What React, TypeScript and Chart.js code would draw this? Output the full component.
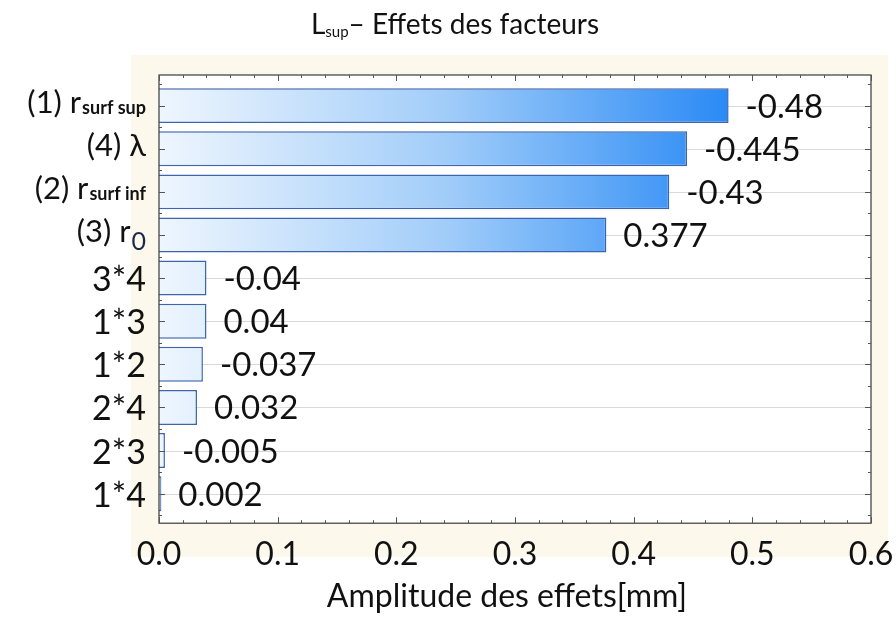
import React, { useEffect, useRef } from "react";
import { Chart, registerables } from "chart.js";

Chart.register(...registerables);

// ---- data ----
const factorMain = ["(1) r", "(4) λ", "(2) r", "(3) r", "3*4", "1*3", "1*2", "2*4", "2*3", "1*4"];
const factorSub = ["surf sup", "", "surf inf", "0", "", "", "", "", "", ""];
const effects = [-0.48, -0.445, -0.43, 0.377, -0.04, 0.04, -0.037, 0.032, -0.005, 0.002];
const xTicks = [0, 0.1, 0.2, 0.3, 0.4, 0.5, 0.6];
const titleMain = "L";
const titleSub = "sup";
const titleRest = "– Effets des facteurs";
const xTitle = "Amplitude des effets[mm]";

const FONT = "Lato, 'Open Sans', sans-serif";

const decorPlugin = {
  id: "decor",
  beforeDraw(chart: any) {
    const { ctx, chartArea: a } = chart;
    ctx.save();
    ctx.fillStyle = "#ffffff";
    ctx.fillRect(0, 0, chart.width, chart.height);
    ctx.fillStyle = "#fcf8ec";
    ctx.fillRect(131, 55, 757, 502);
    ctx.fillStyle = "#ffffff";
    ctx.fillRect(a.left, a.top, a.right - a.left, a.bottom - a.top);
    ctx.restore();
  },
  beforeDatasetsDraw(chart: any) {
    const { ctx, chartArea: a, scales } = chart;
    ctx.save();
    ctx.strokeStyle = "#d9d9d9";
    ctx.lineWidth = 1;
    effects.forEach((_, i) => {
      const y = Math.round(scales.y.getPixelForValue(i)) + 0.5;
      ctx.beginPath();
      ctx.moveTo(a.left, y);
      ctx.lineTo(a.right, y);
      ctx.stroke();
    });
    ctx.restore();
  },
  afterDatasetsDraw(chart: any) {
    const { ctx, chartArea: a, scales } = chart;
    ctx.save();
    // frame
    ctx.strokeStyle = "#3a3a3a";
    ctx.lineWidth = 1.2;
    ctx.strokeRect(a.left, a.top, a.right - a.left, a.bottom - a.top);
    // inward tick marks
    ctx.lineWidth = 1;
    ctx.strokeStyle = "#555";
    for (let k = 0; k <= 30; k++) {
      const v = k * 0.02;
      const x = Math.round(scales.x.getPixelForValue(v)) + 0.5;
      const len = k % 5 === 0 ? 6 : 3;
      ctx.beginPath();
      ctx.moveTo(x, a.top);
      ctx.lineTo(x, a.top + len);
      ctx.moveTo(x, a.bottom);
      ctx.lineTo(x, a.bottom - len);
      ctx.stroke();
    }
    for (let k = -0.5; k <= 9.5; k += 0.5) {
      const y = Math.round(scales.y.getPixelForValue(k)) + 0.5;
      const len = Number.isInteger(k) ? 6 : 3;
      ctx.beginPath();
      ctx.moveTo(a.left, y);
      ctx.lineTo(a.left + len, y);
      ctx.moveTo(a.right, y);
      ctx.lineTo(a.right - len, y);
      ctx.stroke();
    }
    // value labels
    const meta = chart.getDatasetMeta(0);
    ctx.fillStyle = "#111";
    ctx.font = `33px ${FONT}`;
    ctx.textAlign = "left";
    ctx.textBaseline = "alphabetic";
    meta.data.forEach((el: any, i: number) => {
      ctx.fillText(String(effects[i]), el.x + 17, el.y + 12);
    });
    // y labels
    const rightX = 146;
    factorMain.forEach((main, i) => {
      const yc = scales.y.getPixelForValue(i);
      const sub = factorSub[i];
      const isFactor = main.startsWith("(");
      const mainFont = isFactor ? `31px ${FONT}` : `34px ${FONT}`;
      const base = yc + (isFactor ? 7 : 13);
      let subFont = "";
      let subDy = 0;
      const numericSub = /^\d+$/.test(sub);
      if (sub) {
        if (numericSub) {
          subFont = `25px ${FONT}`;
          subDy = 8;
        } else {
          subFont = `bold 18px ${FONT}`;
          subDy = 1;
        }
      }
      ctx.font = subFont || mainFont;
      const subW = sub ? ctx.measureText(sub).width : 0;
      ctx.font = mainFont;
      const mainW = ctx.measureText(main).width;
      const x0 = rightX - subW - mainW - (sub ? 1 : 0);
      ctx.fillStyle = "#111";
      ctx.textAlign = "left";
      ctx.fillText(main, x0, base);
      if (sub) {
        ctx.font = subFont;
        ctx.fillStyle = numericSub ? "#1b2a4a" : "#111";
        ctx.fillText(sub, x0 + mainW + 1, base + subDy);
      }
    });
    // title
    const f1 = `28px ${FONT}`;
    const f2 = `15px ${FONT}`;
    ctx.font = f1;
    const w1 = ctx.measureText(titleMain).width;
    const w3 = ctx.measureText(titleRest).width;
    ctx.font = f2;
    const w2 = ctx.measureText(titleSub).width;
    let tx = 455 - (w1 + w2 + w3) / 2;
    const ty = 34;
    ctx.fillStyle = "#111";
    ctx.font = f1;
    ctx.fillText(titleMain, tx, ty);
    tx += w1;
    ctx.font = f2;
    ctx.fillText(titleSub, tx, ty + 3);
    tx += w2;
    ctx.font = f1;
    ctx.fillText(titleRest, tx, ty);
    // x axis title
    ctx.font = `32px ${FONT}`;
    ctx.textAlign = "center";
    ctx.textBaseline = "middle";
    ctx.fillStyle = "#111";
    ctx.fillText(xTitle, 507, 597);
    ctx.restore();
  },
};

export default function App() {
  const ref = useRef<HTMLCanvasElement | null>(null);
  useEffect(() => {
    document.body.style.margin = "0";
    document.body.style.overflow = "hidden";
    if (!ref.current) return;
    const chart = new Chart(ref.current, {
      type: "bar",
      data: {
        datasets: [
          {
            data: effects.map((v, i) => ({ x: Math.abs(v), y: i })),
            backgroundColor: (c: any) => {
              const ch = c.chart;
              const a = ch.chartArea;
              if (!a) return "#9ccaf9";
              const x0 = ch.scales.x.getPixelForValue(0);
              const x1 = ch.scales.x.getPixelForValue(0.48);
              const g = ch.ctx.createLinearGradient(x0, 0, x1, 0);
              g.addColorStop(0, "#eef6fe");
              g.addColorStop(0.5, "#a2cdf9");
              g.addColorStop(1, "#2a8af5");
              return g;
            },
            borderColor: "#3d64ad",
            borderWidth: 1.5,
            categoryPercentage: 1,
            barPercentage: 0.81,
          } as any,
        ],
      },
      options: {
        indexAxis: "y",
        animation: false,
        responsive: false,
        layout: { padding: { left: 159, right: 25, top: 75, bottom: 31.4 } },
        plugins: { legend: { display: false }, tooltip: { enabled: false }, title: { display: false } },
        scales: {
          y: {
            type: "linear",
            reverse: true,
            offset: false,
            min: -0.71,
            max: 9.685,
            display: false,
            afterBuildTicks: (s: any) => {
              s.ticks = effects.map((_, i) => ({ value: i }));
            },
          },
          x: {
            type: "linear",
            min: 0,
            max: 0.6,
            afterFit: (s: any) => {
              s.paddingLeft = 0;
              s.paddingRight = 0;
            },
            afterBuildTicks: (s: any) => {
              s.ticks = xTicks.map((v) => ({ value: v }));
            },
            grid: { display: false, drawTicks: false },
            border: { display: false },
            ticks: {
              padding: 12,
              color: "#111",
              font: { family: FONT, size: 32 },
              callback: (v: any) => Number(v).toFixed(1),
            },
            title: { display: false },
          },
        },
      } as any,
      plugins: [decorPlugin],
    });
    return () => chart.destroy();
  }, []);
  return <canvas ref={ref} width={896} height={617} style={{ display: "block" }} />;
}
